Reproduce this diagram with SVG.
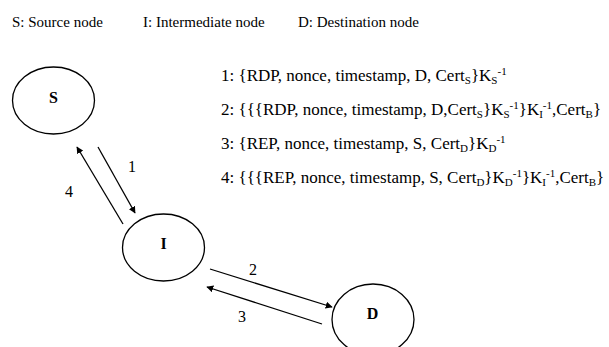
<svg xmlns="http://www.w3.org/2000/svg" width="609" height="347" viewBox="0 0 609 347">
  <style>
    .node ellipse { fill: #fff; stroke: #000; stroke-width: 1.3; }
    .edge { stroke: #000; stroke-width: 1.3; fill: none; marker-end: url(#arr); }
    .sub { font-size: 11px; baseline-shift: -3px; }
    .sup { font-size: 11px; baseline-shift: 6px; }
  </style>
  <defs>
    <marker id="arr" viewBox="0 0 10 10" refX="9" refY="5" markerWidth="7" markerHeight="7" markerUnits="userSpaceOnUse" orient="auto">
      <path d="M0,0 L10,5 L0,10 z" fill="#000"/>
    </marker>
  </defs>

  <rect width="609" height="347" fill="#fff"/>

  <!-- legend -->
  <g id="legend">
    <text x="12" y="27" font-size="15" style="font-family: 'Liberation Serif', serif">S: Source node</text>
    <text x="143" y="27" font-size="15" style="font-family: 'Liberation Serif', serif">I: Intermediate node</text>
    <text x="298" y="27" font-size="15" style="font-family: 'Liberation Serif', serif">D: Destination node</text>
  </g>

  <!-- message formats -->
  <g id="messages">
    <text x="221" y="81" font-size="17" style="font-family: 'Liberation Serif', serif">1: {RDP, nonce, timestamp, D, Cert<tspan class="sub">S</tspan>}K<tspan class="sub">S</tspan><tspan class="sup">-1</tspan></text>
    <text x="221" y="115" font-size="17" style="font-family: 'Liberation Serif', serif">2: {{{RDP, nonce, timestamp, D,Cert<tspan class="sub">S</tspan>}K<tspan class="sub">S</tspan><tspan class="sup">-1</tspan>}K<tspan class="sub">I</tspan><tspan class="sup">-1</tspan>,Cert<tspan class="sub">B</tspan>}</text>
    <text x="221" y="149" font-size="17" style="font-family: 'Liberation Serif', serif">3: {REP, nonce, timestamp, S, Cert<tspan class="sub">D</tspan>}K<tspan class="sub">D</tspan><tspan class="sup">-1</tspan></text>
    <text x="221" y="183" font-size="17" style="font-family: 'Liberation Serif', serif">4: {{{REP, nonce, timestamp, S, Cert<tspan class="sub">D</tspan>}K<tspan class="sub">D</tspan><tspan class="sup">-1</tspan>}K<tspan class="sub">I</tspan><tspan class="sup">-1</tspan>,Cert<tspan class="sub">B</tspan>}</text>
  </g>

  <!-- connectors -->
  <g id="connectors">
    <line class="edge" x1="98" y1="147" x2="135" y2="213"/>
    <line class="edge" x1="123" y1="224" x2="77" y2="147"/>
    <line class="edge" x1="210" y1="269" x2="332" y2="307"/>
    <line class="edge" x1="322" y1="324" x2="207" y2="287"/>
    <text x="132" y="172" font-size="16" text-anchor="middle" style="font-family: 'Liberation Serif', serif">1</text>
    <text x="69" y="197" font-size="16" text-anchor="middle" style="font-family: 'Liberation Serif', serif">4</text>
    <text x="253" y="275" font-size="16" text-anchor="middle" style="font-family: 'Liberation Serif', serif">2</text>
    <text x="242" y="322" font-size="16" text-anchor="middle" style="font-family: 'Liberation Serif', serif">3</text>
  </g>

  <!-- nodes -->
  <g id="node-S" class="node">
    <ellipse cx="53.5" cy="100.5" rx="41" ry="33.5"/>
    <text x="53.5" y="102.5" font-size="16" font-weight="bold" text-anchor="middle" style="font-family: 'Liberation Serif', serif">S</text>
  </g>
  <g id="node-I" class="node">
    <ellipse cx="163.5" cy="247.5" rx="41" ry="33.5"/>
    <text x="163.5" y="248.5" font-size="16" font-weight="bold" text-anchor="middle" style="font-family: 'Liberation Serif', serif">I</text>
  </g>
  <g id="node-D" class="node">
    <ellipse cx="373" cy="319.5" rx="41" ry="35.5"/>
    <text x="372.5" y="319" font-size="16" font-weight="bold" text-anchor="middle" style="font-family: 'Liberation Serif', serif">D</text>
  </g>
</svg>
